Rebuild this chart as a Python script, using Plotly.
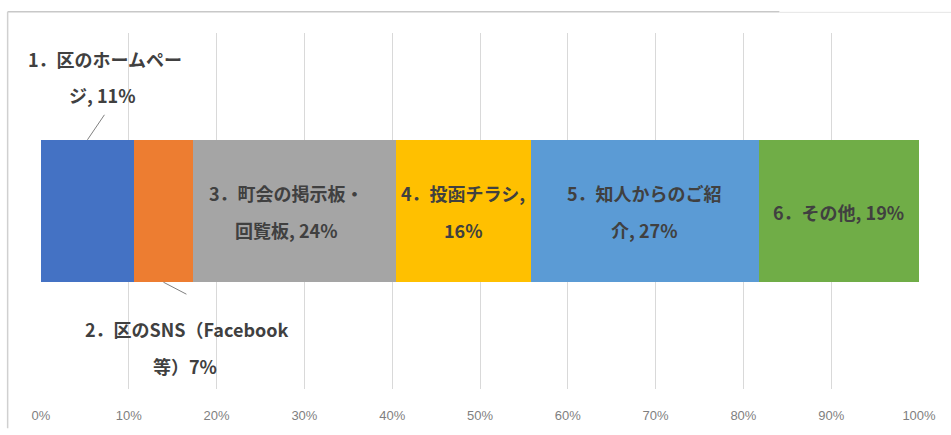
import plotly.graph_objects as go

# ---- data ----
categories = ["1．区のホームページ", "2．区のSNS（Facebook等）", "3．町会の掲示板・回覧板",
              "4．投函チラシ", "5．知人からのご紹介", "6．その他"]
values = [11, 7, 24, 16, 27, 19]
label_lines = [
    ["1．区のホームペー", "ジ, 11%"],
    ["2．区のSNS（Facebook", "等）7%"],
    ["3．町会の掲示板・", "回覧板, 24%"],
    ["4．投函チラシ,", "16%"],
    ["5．知人からのご紹", "介, 27%"],
    ["6．その他, 19%"],
]
colors = ["#4472C4", "#ED7D31", "#A5A5A5", "#FFC000", "#5B9BD5", "#70AD47"]
tick_vals = [0, 10, 20, 30, 40, 50, 60, 70, 80, 90, 100]
tick_text = [f"{v}%" for v in tick_vals]

BAR_W = 0.4
total = sum(values)
cum = []
s = 0
for v in values:
    cum.append((s / total * 100, (s + v) / total * 100))
    s += v
mids = [(a + b) / 2 for a, b in cum]

fig = go.Figure()
for name, v, c in zip(categories, values, colors):
    fig.add_trace(go.Bar(x=[v], y=[0], orientation="h", name=name,
                         marker=dict(color=c, line=dict(width=0)),
                         width=BAR_W, hoverinfo="name+x"))

FONT = dict(family="Noto Sans CJK JP", size=18, color="#404040")
ann = []
shapes = []

def txt(x, y, s, xs, ys):
    ann.append(dict(x=x, y=y, xref="x", yref="y", text=f"<b>{s}</b>",
                    showarrow=False, xanchor="center", yanchor="middle",
                    xshift=xs, yshift=ys, font=FONT))

# label 1 (above, with leader)
top = BAR_W / 2
txt(mids[0], top, label_lines[0][0], 18, 81)
txt(mids[0], top, label_lines[0][1], 15, 45)
shapes.append(dict(type="line", xref="x", yref="y", xsizemode="pixel", ysizemode="pixel",
                   xanchor=mids[0], yanchor=top, x0=0, x1=17, y0=0, y1=25,
                   line=dict(color="#808080", width=1)))
# label 2 (below, with leader)
bot = -BAR_W / 2
txt(mids[1], bot, label_lines[1][0], 24, -47)
txt(mids[1], bot, label_lines[1][1], 22, -84)
shapes.append(dict(type="line", xref="x", yref="y", xsizemode="pixel", ysizemode="pixel",
                   xanchor=mids[1], yanchor=bot, x0=0, x1=23, y0=0, y1=-12,
                   line=dict(color="#808080", width=1)))
# inside labels
for i in range(2, 6):
    lines = label_lines[i]
    xs = -8 if i == 2 else 0
    if len(lines) == 2:
        txt(mids[i], 0, lines[0], xs, 18)
        txt(mids[i], 0, lines[1], xs, -19)
    else:
        txt(mids[i], 0, lines[0], xs, -1)

# screenshot frame lines
shapes.append(dict(type="line", xref="paper", yref="paper", x0=-0.038, x1=0.841,
                   y0=1.06, y1=1.06, line=dict(color="#c8c8c8", width=1.5)))
shapes.append(dict(type="line", xref="paper", yref="paper", x0=0.841, x1=1.04,
                   y0=1.058, y1=1.058, line=dict(color="#e6e6e6", width=1)))
shapes.append(dict(type="line", xref="paper", yref="paper", x0=-0.038, x1=-0.038,
                   y0=1.06, y1=-0.11, line=dict(color="#d0d0d0", width=1.5)))

fig.update_layout(
    width=951, height=435,
    margin=dict(l=41, r=32, t=33, b=38),
    barmode="stack", barnorm="percent",
    showlegend=False,
    plot_bgcolor="white", paper_bgcolor="white",
    annotations=ann, shapes=shapes,
    xaxis=dict(range=[0, 100], tickvals=tick_vals, ticktext=tick_text,
               showgrid=True, gridcolor="#d9d9d9", gridwidth=1, zeroline=False,
               showline=False, ticks="", ticklabelstandoff=17,
               tickfont=dict(family="Liberation Sans", size=13, color="#7f7f7f")),
    yaxis=dict(range=[-0.5, 0.5], visible=False, fixedrange=True),
)

fig.write_html("out.html", config={"displayModeBar": False},
               post_script="document.body.style.margin='0';document.body.style.overflow='hidden';")
